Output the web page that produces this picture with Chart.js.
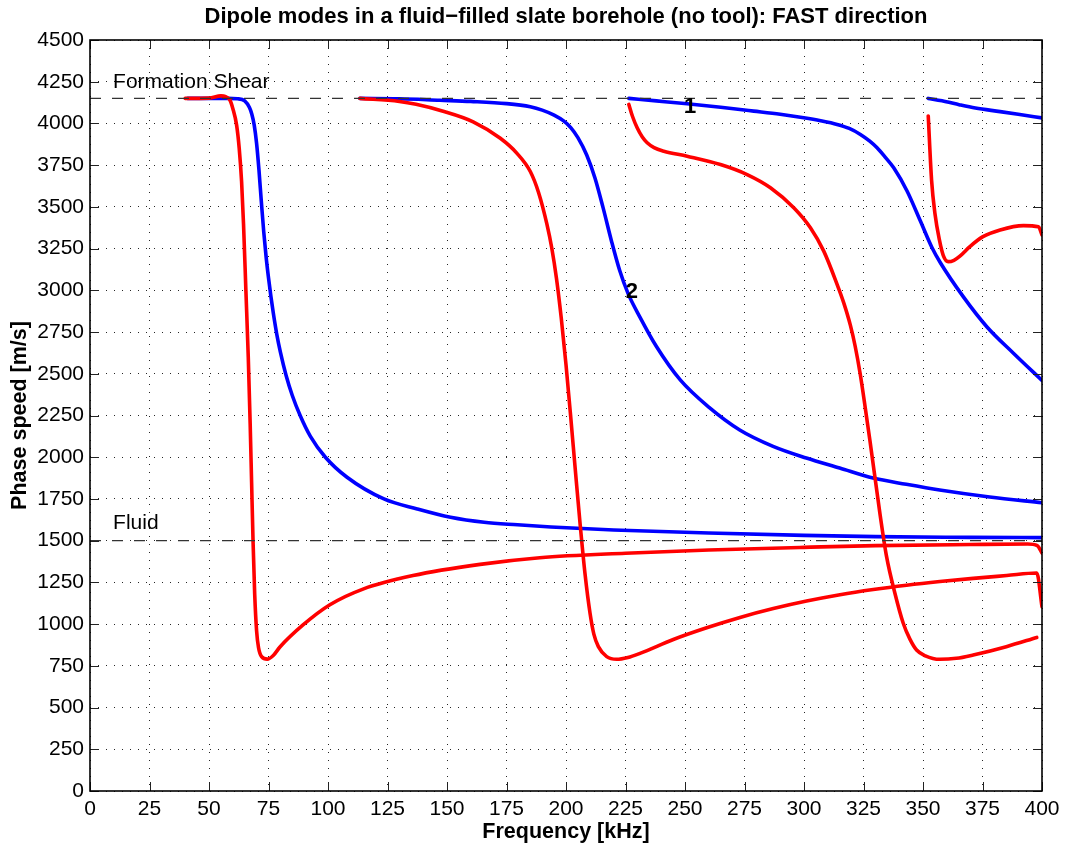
<!DOCTYPE html>
<html>
<head>
<meta charset="utf-8">
<script src="https://cdn.jsdelivr.net/npm/chart.js@4.4.1/dist/chart.umd.min.js"></script>
<style>
html,body{margin:0;padding:0;background:#fff;}
#wrap{width:1066px;height:849px;position:relative;}
</style>
</head>
<body>
<div id="wrap"><canvas id="c" width="1066" height="849"></canvas></div>
<script>
// ---- tick values ----
const xTicks = [0,25,50,75,100,125,150,175,200,225,250,275,300,325,350,375,400];
const yTicks = [0,250,500,750,1000,1250,1500,1750,2000,2250,2500,2750,3000,3250,3500,3750,4000,4250,4500];

// ---- reference speeds (m/s) ----
const shearSpeed = 4150;
const fluidSpeed = 1500;

// ---- blue curves: frequency [kHz] and phase speed [m/s] ----
const blue1F = [41,50,58,62,65,67,68,69,70,71,72,73,74,75,76,77,78.5,80,82.4,85,88.3,92.6,98.9,108,123.5,137.5,151.5,165.6,179.6,193.7,220,260,300,330,370,400];
const blue1V = [4150,4150,4150,4148,4135,4095,4055,3990,3880,3720,3530,3350,3200,3075,2965,2865,2735,2630,2490,2370,2250,2125,2000,1880,1750,1690,1640,1610,1595,1582,1564,1546,1532,1524,1520,1518];

const blue2F = [113.4,130,147,160,175,185,190,195,199,202,205,208.7,212.2,215.6,219.1,222.6,226.1,231,238,248,260,273,287,301,315,329,343,357,378,400];
const blue2V = [4150,4148,4139,4132,4119,4100,4080,4050,4015,3975,3915,3811,3672,3494,3296,3117,2980,2841,2663,2463,2300,2163,2065,1995,1935,1875,1838,1804,1762,1727];

const blue3F = [226.4,238,250.9,265,278.9,290,299.9,307,313.9,319,323.7,327.5,330.7,334,337.7,343.3,348.9,353.8,357.3,366.9,376.8,388,400];
const blue3V = [4150,4135,4118,4097,4074,4055,4034,4016,3994,3970,3934,3895,3854,3800,3734,3595,3415,3255,3165,2962,2782,2623,2460];

const blue4F = [352.2,358,365.5,372,382.4,390,400];
const blue4V = [4150,4136,4111,4092,4071,4055,4033];

// ---- red curves ----
const red1F = [40,50,55,57,58.8,60,61.6,62.7,63.7,64.5,65.5,66.5,67.3,67.9,68.5,69.2,70,70.8,72.1,74.5,77,79.8,89.5,100.8,114.7,135.7,163.9,189,225,260,300,330,370,394,398,400];
const red1V = [4150,4152,4165,4160,4140,4090,3990,3850,3650,3400,3000,2600,2200,1850,1500,1180,960,860,805,790,812,863,995,1116,1210,1291,1358,1398,1425,1444,1460,1470,1477,1480,1470,1426];

const red2F = [113.4,130,137,148,161,172.4,179.4,185,188.5,192,194,196,198,200,202,204,206,208,210.1,211.7,213.6,217.1,221.3,226,231.1,245.1,259.1,273.1,287.1,301.1,315.1,329.1,343.1,357.1,371.1,385.2,397.8,400];
const red2V = [4150,4132,4115,4075,4010,3911,3821,3712,3585,3395,3255,3071,2835,2555,2239,1909,1589,1300,1065,940,865,805,789,800,825,908,978,1040,1093,1138,1176,1207,1233,1255,1274,1291,1306,1104];

const red3F = [226.4,228,229.9,232,234.1,237,241.1,250.9,264.9,276.1,285.9,295.7,302.7,308.3,313.9,316.7,319.5,321.5,323.6,325.7,327.7,331.9,334.7,338.2,341.7,344.5,347.3,351,357.1,364,371.1,385,397.8];
const red3V = [4114,4040,3974,3920,3884,3855,3834,3804,3754,3694,3615,3495,3375,3235,3036,2925,2790,2665,2500,2300,2100,1663,1404,1185,1005,910,845,810,789,795,815,865,920];

const red4F = [352.2,353.6,355,356.9,358.5,360.6,363,365.5,369.7,375,382.4,392.2,398.5,400];
const red4V = [4045,3661,3462,3302,3210,3172,3180,3205,3262,3320,3362,3388,3381,3332];

// ---- text annotations ----
const textLabels = ['Formation Shear','Fluid','1','2'];
const textFreq   = [9.7, 9.7, 252.1, 227.7];
const textSpeed  = [4245, 1606, 4099, 2990];
const textBold   = [false,false,true,true];

const TITLE = 'Dipole modes in a fluid\u2212filled slate borehole (no tool): FAST direction';

const FONT = "'Liberation Sans', Arial, Helvetica, sans-serif";
Chart.defaults.font.family = FONT;
Chart.defaults.color = '#000';

function pts(F, V){ return F.map((f,i)=>({x:f, y:V[i]})); }
function curve(F, V, color){
  return {data: pts(F,V), showLine:true, borderColor:color, backgroundColor:color,
          borderWidth:3.6, pointRadius:0, cubicInterpolationMode:'monotone', fill:false,
          borderCapStyle:'round', borderJoinStyle:'round'};
}
function refLine(v){
  return {data: pts([xTicks[0], xTicks[xTicks.length-1]],[v,v]), showLine:true,
          borderColor:'#333', borderWidth:1.1, borderDash:[11,11], pointRadius:0, fill:false, tension:0};
}

const RED = '#ff0000', BLUE = '#0000ff';
const datasets = [
  refLine(shearSpeed), refLine(fluidSpeed),
  curve(red1F, red1V, RED), curve(red2F, red2V, RED), curve(red3F, red3V, RED), curve(red4F, red4V, RED),
  curve(blue1F, blue1V, BLUE), curve(blue2F, blue2V, BLUE), curve(blue3F, blue3V, BLUE), curve(blue4F, blue4V, BLUE)
];

const framePlugin = {
  id: 'frame',
  afterDraw(chart){
    const {ctx, chartArea:a, scales:{x, y}} = chart;
    ctx.save();
    ctx.strokeStyle = '#222';
    ctx.lineWidth = 1;
    const L = 9;
    ctx.beginPath();
    xTicks.forEach(v=>{
      const px = Math.round(x.getPixelForValue(v)) + 0.5;
      ctx.moveTo(px, a.bottom); ctx.lineTo(px, a.bottom - L);
      ctx.moveTo(px, a.top); ctx.lineTo(px, a.top + L);
    });
    yTicks.forEach(v=>{
      const py = Math.round(y.getPixelForValue(v)) + 0.5;
      ctx.moveTo(a.left, py); ctx.lineTo(a.left + L, py);
      ctx.moveTo(a.right, py); ctx.lineTo(a.right - L, py);
    });
    ctx.stroke();
    ctx.strokeStyle = '#000';
    ctx.lineWidth = 1.6;
    ctx.strokeRect(a.left, a.top, a.right - a.left, a.bottom - a.top);
    // text labels
    ctx.fillStyle = '#000';
    ctx.textBaseline = 'middle';
    textLabels.forEach((t,i)=>{
      const px = x.getPixelForValue(textFreq[i]);
      const py = y.getPixelForValue(textSpeed[i]);
      if (textBold[i]) { ctx.font = 'bold 22px ' + FONT; ctx.textAlign = 'center'; }
      else { ctx.font = '21px ' + FONT; ctx.textAlign = 'left'; }
      ctx.fillText(t, px, py);
    });
    ctx.restore();
  }
};

new Chart(document.getElementById('c'), {
  type: 'scatter',
  data: {datasets},
  options: {
    responsive: false,
    animation: false,
    devicePixelRatio: 1,
    layout: {padding: {left: 0, right: 24, top: 0, bottom: 0}},
    plugins: {
      legend: {display: false},
      tooltip: {enabled: false},
      title: {display: true, text: TITLE, fullSize: false, color: '#000',
              font: {size: 22, weight: 'bold', family: FONT},
              padding: {top: 3.8, bottom: 9.8}}
    },
    scales: {
      x: {
        type: 'linear', min: 0, max: 400,
        afterBuildTicks: s => { s.ticks = xTicks.map(v => ({value: v})); },
        ticks: {padding: 6, font: {size: 21}, maxRotation: 0, autoSkip: false, color: '#000',
                callback: v => String(v)},
        grid: {color: 'rgba(0,0,0,0.85)', lineWidth: 1, drawTicks: false},
        border: {display: false, dash: [1, 7]},
        title: {display: true, text: 'Frequency [kHz]', color: '#000',
                font: {size: 21.5, weight: 'bold'}, padding: {top: 0, bottom: 4.1}},
        afterFit: s => { s.height = 58; }
      },
      y: {
        type: 'linear', min: 0, max: 4500,
        afterBuildTicks: s => { s.ticks = yTicks.map(v => ({value: v})); },
        ticks: {padding: 6, font: {size: 21}, autoSkip: false, color: '#000',
                callback: v => String(v)},
        grid: {color: 'rgba(0,0,0,0.85)', lineWidth: 1, drawTicks: false},
        border: {display: false, dash: [1, 7]},
        title: {display: true, text: 'Phase speed [m/s]', color: '#000',
                font: {size: 21.5, weight: 'bold'}, padding: {top: 7.1, bottom: 0}},
        afterFit: s => { s.width = 90; }
      }
    }
  },
  plugins: [framePlugin]
});
</script>
</body>
</html>
